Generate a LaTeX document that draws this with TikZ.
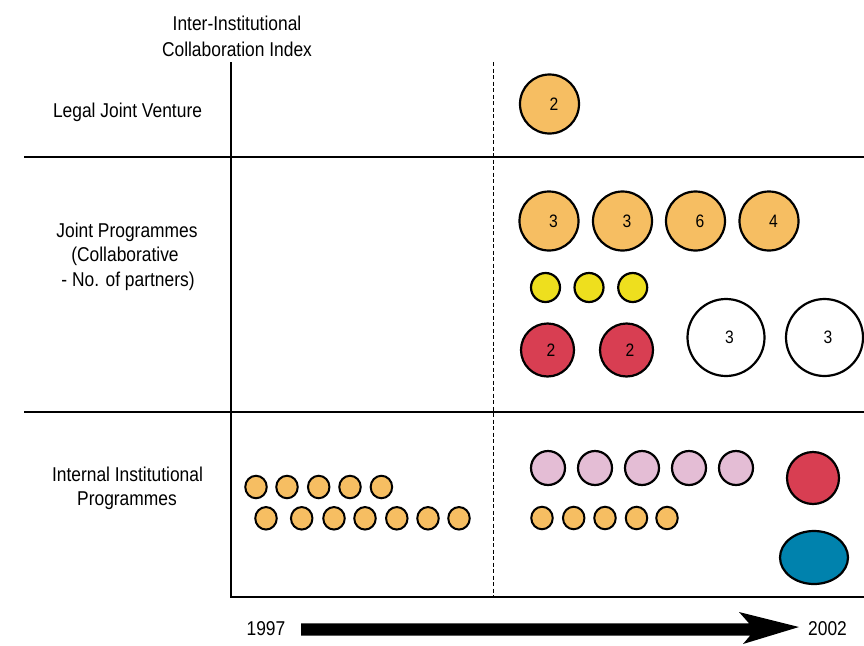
\documentclass[tikz,border=0pt]{standalone}
\usepackage{fontspec}
\setmainfont[FakeStretch=0.87]{Liberation Sans}
\usetikzlibrary{shapes.geometric}
\definecolor{corange}{HTML}{F6BE62}
\definecolor{cyellow}{HTML}{EEDF1E}
\definecolor{cred}{HTML}{D83E52}
\definecolor{cpink}{HTML}{E4BDD5}
\definecolor{cblue}{HTML}{0082AD}
\tikzset{
  axis/.style={line width=1.8pt, black},
  lab/.style={anchor=base, inner sep=0pt, font=\fontsize{20}{24}\selectfont},
  num/.style={font=\fontsize{18}{22}\selectfont, inner sep=0pt},
  blob/.style={circle, draw=black, line width=2.2pt, inner sep=0pt},
  bigo/.style={blob, fill=corange, minimum size=59pt},
  yel/.style={blob, fill=cyellow, minimum size=29pt},
  redc/.style={blob, fill=cred, minimum size=53pt},
  whitec/.style={blob, fill=white, minimum size=77pt},
  pinkc/.style={blob, fill=cpink, minimum size=34pt},
  smallo/.style={ellipse, draw=black, line width=2pt, inner sep=0pt, fill=corange, minimum width=21.5pt, minimum height=22.5pt},
}
\begin{document}
\begin{tikzpicture}[x=1pt,y=-1pt]
\useasboundingbox (0,0) rectangle (864,645);
% axes
\draw[axis] (231,62) -- (231,597) -- (864,597);
\draw[axis] (24,157) -- (864,157);
\draw[axis] (24,412) -- (864,412);
\draw[line width=1pt, dash pattern=on 4pt off 2.5pt] (493,62) -- (493,597);
% labels
\node[lab] (t1) at (237,30) {Inter-Institutional};
\node[lab] (t2) at (237,56) {Collaboration Index};
\node[lab] (l1) at (127.5,117) {Legal Joint Venture};
\node[lab] (j1) at (127,237) {Joint Programmes};
\node[lab] (j2) at (125,261.5) {(Collaborative};
\node[lab] (j3) at (128,286) {- No. of partners)};
\node[lab] (i1) at (127.5,481) {Internal Institutional};
\node[lab] (i2) at (127,505) {Programmes};
\node[lab] (y1) at (266,635.5) {1997};
\node[lab] (y2) at (827.5,635.5) {2002};
% time arrow
\fill[black] (301,623.3) -- (749,623.3) -- (739,612) -- (799,627) -- (743,644) -- (750,635.7) -- (301,635.7) -- cycle;
% legal joint venture
\node[bigo] (lv) at (549.5,104) {};
\node[num] at ([xshift=4.5pt]lv.center) {2};
% joint programmes
\node[bigo] (ja) at (549,221) {};
\node[bigo] (jb) at (622.5,221) {};
\node[bigo] (jc) at (695.5,221) {};
\node[bigo] (jd) at (769,221) {};
\node[num] at ([xshift=4.5pt]ja.center) {3};
\node[num] at ([xshift=4.5pt]jb.center) {3};
\node[num] at ([xshift=4.5pt]jc.center) {6};
\node[num] at ([xshift=4.5pt]jd.center) {4};
\node[yel] (ya) at (545.5,287.5) {};
\node[yel] (yb) at (589,287.5) {};
\node[yel] (yc) at (632.7,287.5) {};
\node[redc] (ra) at (547.5,350) {};
\node[redc] (rb) at (626.5,350) {};
\node[num] at ([xshift=3.5pt]ra.center) {2};
\node[num] at ([xshift=3.5pt]rb.center) {2};
\node[whitec] (wa) at (726,337.5) {};
\node[whitec] (wb) at (824.5,337.5) {};
\node[num] at ([xshift=3.5pt]wa.center) {3};
\node[num] at ([xshift=3.5pt]wb.center) {3};
% internal programmes, 1997
\foreach \x [count=\i] in {256,287,318.7,350,381.4}
  \node[smallo] (oa\i) at (\x,487) {};
\foreach \x [count=\i] in {266,301.7,334,365,396.8,428,459}
  \node[smallo] (ob\i) at (\x,518.3) {};
% internal programmes, 2002
\foreach \x [count=\i] in {548,595,642,689,736}
  \node[pinkc] (p\i) at (\x,468) {};
\foreach \x [count=\i] in {542,573.7,605,636.5,667}
  \node[smallo] (oc\i) at (\x,518) {};
\node[redc, minimum size=52pt] (rc) at (813,478) {};
\node[ellipse, draw=black, line width=2.2pt, fill=cblue, minimum width=68pt, minimum height=53pt, inner sep=0pt] (bl) at (814,557.5) {};
\end{tikzpicture}
\end{document}
